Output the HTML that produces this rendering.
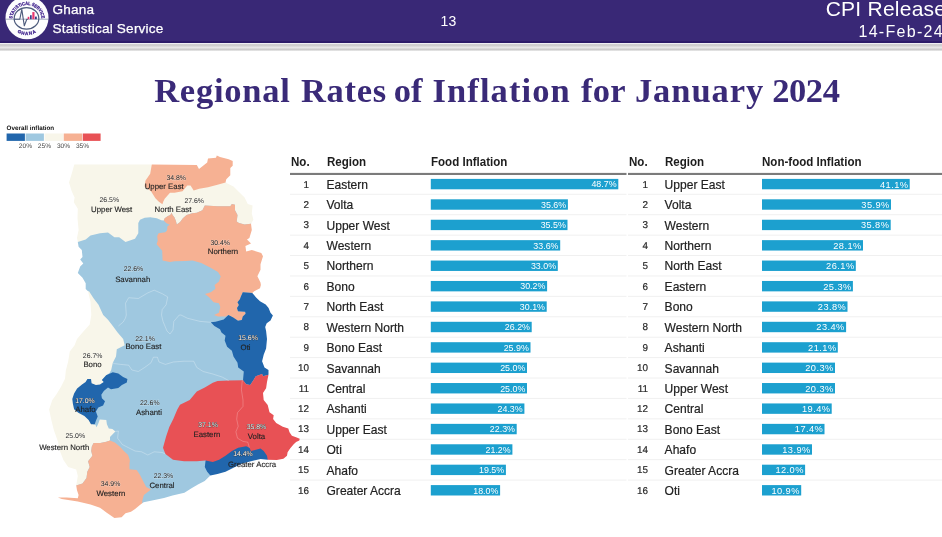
<!DOCTYPE html>
<html lang="en">
<head>
<meta charset="utf-8">
<title>Regional Rates of Inflation for January 2024</title>
<style>
html,body{margin:0;padding:0;}
body{width:942px;height:537px;overflow:hidden;background:#fff;position:relative;font-family:"Liberation Sans",sans-serif;}
.page{position:absolute;left:0;top:0;width:942px;height:537px;overflow:hidden;will-change:transform;}
.hdr{position:absolute;left:0;top:0;width:942px;height:42.7px;background:linear-gradient(#392876 0,#392876 40.6px,#2b1b68 41.6px,#2b1b68 100%);}
.strip{position:absolute;left:0;top:42.7px;width:942px;height:8.6px;background:linear-gradient(#f2f2f8 0,#eeeef2 8%,#c6c6c6 22%,#e6e6e6 56%,#c4c4c4 88%,#ffffff 100%);}
.org{position:absolute;left:52.5px;color:#fff;font-size:13.6px;line-height:18px;white-space:nowrap;letter-spacing:0.2px;-webkit-text-stroke:0.25px #fff;}
.pg{position:absolute;left:428.4px;width:40px;text-align:center;top:12.7px;color:#fff;font-size:14px;line-height:16px;}
.cpi{position:absolute;right:-4.3px;top:-3.2px;color:#fff;font-size:21px;line-height:24px;white-space:nowrap;letter-spacing:0.25px;}
.date{position:absolute;right:-2px;top:22.7px;color:#fff;font-size:16px;line-height:18px;white-space:nowrap;letter-spacing:1.3px;}
h1{position:absolute;left:0;top:69.7px;width:942px;height:40px;margin:0;font-family:"Liberation Serif",serif;font-weight:bold;font-size:34.5px;line-height:40px;color:#3a2a78;white-space:nowrap;}
h1 span{position:absolute;top:0;}
.th{position:absolute;top:154px;font-weight:bold;font-size:12.3px;line-height:16px;color:#1d1d1d;white-space:nowrap;transform:scaleX(0.94);transform-origin:0 0;}
.num{position:absolute;width:30px;text-align:right;font-size:9.9px;line-height:14px;color:#2a2a2a;-webkit-text-stroke:0.2px #2a2a2a;text-rendering:geometricPrecision;}
.reg{position:absolute;font-size:12.05px;line-height:16px;color:#222;white-space:nowrap;-webkit-text-stroke:0.2px #222;}
</style>
</head>
<body>
<div class="page">
<div class="hdr"></div>
<div class="strip"></div>
<svg class="logo" width="56" height="43" viewBox="0 0 56 43" style="position:absolute;left:0;top:0">
<defs>
<path id="arcT" d="M 12.4 19.6 A 14.6 14.6 0 0 1 41.6 19.6"/>
<path id="arcB" d="M 9.6 17.5 A 17.4 17.6 0 0 0 44.4 17.5"/>
</defs>
<circle cx="27" cy="17.8" r="21.5" fill="#fdfdfe"/>
<line x1="5.6" y1="19.2" x2="48.4" y2="19.2" stroke="#7c86a0" stroke-width="0.7"/>
<ellipse cx="26.5" cy="18.4" rx="12.3" ry="10.8" fill="none" stroke="#4d5b7c" stroke-width="1.2"/>
<polyline points="13.8,19.2 19.8,19.2 21.8,9.4 24.3,25.8 26.8,19.3 28,19.3" fill="none" stroke="#4d5b7c" stroke-width="1.1" stroke-linejoin="round"/>
<rect x="27.7" y="16.8" width="1.6" height="2.4" fill="#e8356e"/>
<rect x="30" y="15.2" width="1.7" height="4" fill="#3a3f86"/>
<rect x="32.3" y="12.1" width="2.2" height="7.1" fill="#e8356e"/>
<rect x="35" y="16.6" width="1.8" height="2.6" fill="#3a3f86"/>
<text font-family="Liberation Sans, sans-serif" font-weight="bold" font-size="4.7" fill="#43268f" stroke="#43268f" stroke-width="0.28"><textPath href="#arcT" startOffset="50%" text-anchor="middle" textLength="43.5" lengthAdjust="spacingAndGlyphs">STATISTICAL SERVICE</textPath></text>
<text font-family="Liberation Sans, sans-serif" font-weight="bold" font-size="4.5" fill="#43268f" stroke="#43268f" stroke-width="0.3" letter-spacing="0.85"><textPath href="#arcB" startOffset="50%" text-anchor="middle">GHANA</textPath></text>
</svg>

<div class="org" style="top:1.0px">Ghana</div>
<div class="org" style="top:19.9px">Statistical Service</div>
<div class="pg">13</div>
<div class="cpi">CPI Release</div>
<div class="date">14-Feb-24</div>
<h1><span style="left:154.2px;letter-spacing:0.75px">Regional</span> <span style="left:300.9px;letter-spacing:0.7px">Rates</span> <span style="left:393.8px;letter-spacing:0.0px">of</span> <span style="left:432.5px;letter-spacing:1.1px">Inflation</span> <span style="left:581.1px;letter-spacing:0.2px">for</span> <span style="left:634.9px;letter-spacing:0.94px">January</span> <span style="left:772.2px;letter-spacing:-0.43px">2024</span></h1>
<div class="tbl">
<div class="th" style="left:291px">No.</div>
<div class="th" style="left:326.5px">Region</div>
<div class="th" style="left:430.8px">Food Inflation</div>
<div class="num" style="left:279.1px;top:178.50px">1</div>
<div class="reg" style="left:326.5px;top:176.80px">Eastern</div>
<div class="num" style="left:279.1px;top:198.91px">2</div>
<div class="reg" style="left:326.5px;top:197.21px">Volta</div>
<div class="num" style="left:279.1px;top:219.33px">3</div>
<div class="reg" style="left:326.5px;top:217.63px">Upper West</div>
<div class="num" style="left:279.1px;top:239.74px">4</div>
<div class="reg" style="left:326.5px;top:238.04px">Western</div>
<div class="num" style="left:279.1px;top:260.15px">5</div>
<div class="reg" style="left:326.5px;top:258.45px">Northern</div>
<div class="num" style="left:279.1px;top:280.56px">6</div>
<div class="reg" style="left:326.5px;top:278.86px">Bono</div>
<div class="num" style="left:279.1px;top:300.98px">7</div>
<div class="reg" style="left:326.5px;top:299.28px">North East</div>
<div class="num" style="left:279.1px;top:321.39px">8</div>
<div class="reg" style="left:326.5px;top:319.69px">Western North</div>
<div class="num" style="left:279.1px;top:341.80px">9</div>
<div class="reg" style="left:326.5px;top:340.10px">Bono East</div>
<div class="num" style="left:279.1px;top:362.22px">10</div>
<div class="reg" style="left:326.5px;top:360.52px">Savannah</div>
<div class="num" style="left:279.1px;top:382.63px">11</div>
<div class="reg" style="left:326.5px;top:380.93px">Central</div>
<div class="num" style="left:279.1px;top:403.04px">12</div>
<div class="reg" style="left:326.5px;top:401.34px">Ashanti</div>
<div class="num" style="left:279.1px;top:423.46px">13</div>
<div class="reg" style="left:326.5px;top:421.76px">Upper East</div>
<div class="num" style="left:279.1px;top:443.87px">14</div>
<div class="reg" style="left:326.5px;top:442.17px">Oti</div>
<div class="num" style="left:279.1px;top:464.28px">15</div>
<div class="reg" style="left:326.5px;top:462.58px">Ahafo</div>
<div class="num" style="left:279.1px;top:484.69px">16</div>
<div class="reg" style="left:326.5px;top:482.99px">Greater Accra</div>
<svg width="942" height="537" viewBox="0 0 942 537" style="position:absolute;left:0;top:0;pointer-events:none">
<rect x="290" y="172.9" width="336.5" height="2.1" fill="#7b7b7b"/>
<rect x="430.8" y="178.90" width="187.5" height="10.4" fill="#1ca0cf"/>
<text x="616.6" y="187.40" text-anchor="end" font-family="Liberation Sans, sans-serif" font-size="8.9" letter-spacing="0" fill="#fff">48.7%</text>
<rect x="290" y="193.80" width="336.5" height="1" fill="#f0f0f0"/>
<rect x="430.8" y="199.31" width="137.1" height="10.4" fill="#1ca0cf"/>
<text x="566.2" y="207.81" text-anchor="end" font-family="Liberation Sans, sans-serif" font-size="8.9" letter-spacing="0" fill="#fff">35.6%</text>
<rect x="290" y="214.21" width="336.5" height="1" fill="#f0f0f0"/>
<rect x="430.8" y="219.73" width="136.7" height="10.4" fill="#1ca0cf"/>
<text x="565.8" y="228.23" text-anchor="end" font-family="Liberation Sans, sans-serif" font-size="8.9" letter-spacing="0" fill="#fff">35.5%</text>
<rect x="290" y="234.63" width="336.5" height="1" fill="#f0f0f0"/>
<rect x="430.8" y="240.14" width="129.4" height="10.4" fill="#1ca0cf"/>
<text x="558.5" y="248.64" text-anchor="end" font-family="Liberation Sans, sans-serif" font-size="8.9" letter-spacing="0" fill="#fff">33.6%</text>
<rect x="290" y="255.04" width="336.5" height="1" fill="#f0f0f0"/>
<rect x="430.8" y="260.55" width="127.0" height="10.4" fill="#1ca0cf"/>
<text x="556.1" y="269.05" text-anchor="end" font-family="Liberation Sans, sans-serif" font-size="8.9" letter-spacing="0" fill="#fff">33.0%</text>
<rect x="290" y="275.45" width="336.5" height="1" fill="#f0f0f0"/>
<rect x="430.8" y="280.96" width="116.3" height="10.4" fill="#1ca0cf"/>
<text x="545.4" y="289.46" text-anchor="end" font-family="Liberation Sans, sans-serif" font-size="8.9" letter-spacing="0" fill="#fff">30.2%</text>
<rect x="290" y="295.86" width="336.5" height="1" fill="#f0f0f0"/>
<rect x="430.8" y="301.38" width="115.9" height="10.4" fill="#1ca0cf"/>
<text x="545.0" y="309.88" text-anchor="end" font-family="Liberation Sans, sans-serif" font-size="8.9" letter-spacing="0" fill="#fff">30.1%</text>
<rect x="290" y="316.28" width="336.5" height="1" fill="#f0f0f0"/>
<rect x="430.8" y="321.79" width="100.9" height="10.4" fill="#1ca0cf"/>
<text x="530.0" y="330.29" text-anchor="end" font-family="Liberation Sans, sans-serif" font-size="8.9" letter-spacing="0" fill="#fff">26.2%</text>
<rect x="290" y="336.69" width="336.5" height="1" fill="#f0f0f0"/>
<rect x="430.8" y="342.20" width="99.7" height="10.4" fill="#1ca0cf"/>
<text x="528.8" y="350.70" text-anchor="end" font-family="Liberation Sans, sans-serif" font-size="8.9" letter-spacing="0" fill="#fff">25.9%</text>
<rect x="290" y="357.10" width="336.5" height="1" fill="#f0f0f0"/>
<rect x="430.8" y="362.62" width="96.2" height="10.4" fill="#1ca0cf"/>
<text x="525.3" y="371.12" text-anchor="end" font-family="Liberation Sans, sans-serif" font-size="8.9" letter-spacing="0" fill="#fff">25.0%</text>
<rect x="290" y="377.52" width="336.5" height="1" fill="#f0f0f0"/>
<rect x="430.8" y="383.03" width="96.2" height="10.4" fill="#1ca0cf"/>
<text x="525.3" y="391.53" text-anchor="end" font-family="Liberation Sans, sans-serif" font-size="8.9" letter-spacing="0" fill="#fff">25.0%</text>
<rect x="290" y="397.93" width="336.5" height="1" fill="#f0f0f0"/>
<rect x="430.8" y="403.44" width="93.6" height="10.4" fill="#1ca0cf"/>
<text x="522.7" y="411.94" text-anchor="end" font-family="Liberation Sans, sans-serif" font-size="8.9" letter-spacing="0" fill="#fff">24.3%</text>
<rect x="290" y="418.34" width="336.5" height="1" fill="#f0f0f0"/>
<rect x="430.8" y="423.86" width="85.9" height="10.4" fill="#1ca0cf"/>
<text x="515.0" y="432.36" text-anchor="end" font-family="Liberation Sans, sans-serif" font-size="8.9" letter-spacing="0" fill="#fff">22.3%</text>
<rect x="290" y="438.76" width="336.5" height="1" fill="#f0f0f0"/>
<rect x="430.8" y="444.27" width="81.6" height="10.4" fill="#1ca0cf"/>
<text x="510.7" y="452.77" text-anchor="end" font-family="Liberation Sans, sans-serif" font-size="8.9" letter-spacing="0" fill="#fff">21.2%</text>
<rect x="290" y="459.17" width="336.5" height="1" fill="#f0f0f0"/>
<rect x="430.8" y="464.68" width="75.1" height="10.4" fill="#1ca0cf"/>
<text x="504.2" y="473.18" text-anchor="end" font-family="Liberation Sans, sans-serif" font-size="8.9" letter-spacing="0" fill="#fff">19.5%</text>
<rect x="290" y="479.58" width="336.5" height="1" fill="#f0f0f0"/>
<rect x="430.8" y="485.09" width="69.3" height="10.4" fill="#1ca0cf"/>
<text x="498.4" y="493.59" text-anchor="end" font-family="Liberation Sans, sans-serif" font-size="8.9" letter-spacing="0" fill="#fff">18.0%</text>
</svg>
</div>
<div class="tbl">
<div class="th" style="left:629px">No.</div>
<div class="th" style="left:664.6px">Region</div>
<div class="th" style="left:762px">Non-food Inflation</div>
<div class="num" style="left:618.1px;top:178.50px">1</div>
<div class="reg" style="left:664.6px;top:176.80px">Upper East</div>
<div class="num" style="left:618.1px;top:198.91px">2</div>
<div class="reg" style="left:664.6px;top:197.21px">Volta</div>
<div class="num" style="left:618.1px;top:219.33px">3</div>
<div class="reg" style="left:664.6px;top:217.63px">Western</div>
<div class="num" style="left:618.1px;top:239.74px">4</div>
<div class="reg" style="left:664.6px;top:238.04px">Northern</div>
<div class="num" style="left:618.1px;top:260.15px">5</div>
<div class="reg" style="left:664.6px;top:258.45px">North East</div>
<div class="num" style="left:618.1px;top:280.56px">6</div>
<div class="reg" style="left:664.6px;top:278.86px">Eastern</div>
<div class="num" style="left:618.1px;top:300.98px">7</div>
<div class="reg" style="left:664.6px;top:299.28px">Bono</div>
<div class="num" style="left:618.1px;top:321.39px">8</div>
<div class="reg" style="left:664.6px;top:319.69px">Western North</div>
<div class="num" style="left:618.1px;top:341.80px">9</div>
<div class="reg" style="left:664.6px;top:340.10px">Ashanti</div>
<div class="num" style="left:618.1px;top:362.22px">10</div>
<div class="reg" style="left:664.6px;top:360.52px">Savannah</div>
<div class="num" style="left:618.1px;top:382.63px">11</div>
<div class="reg" style="left:664.6px;top:380.93px">Upper West</div>
<div class="num" style="left:618.1px;top:403.04px">12</div>
<div class="reg" style="left:664.6px;top:401.34px">Central</div>
<div class="num" style="left:618.1px;top:423.46px">13</div>
<div class="reg" style="left:664.6px;top:421.76px">Bono East</div>
<div class="num" style="left:618.1px;top:443.87px">14</div>
<div class="reg" style="left:664.6px;top:442.17px">Ahafo</div>
<div class="num" style="left:618.1px;top:464.28px">15</div>
<div class="reg" style="left:664.6px;top:462.58px">Greater Accra</div>
<div class="num" style="left:618.1px;top:484.69px">16</div>
<div class="reg" style="left:664.6px;top:482.99px">Oti</div>
<svg width="942" height="537" viewBox="0 0 942 537" style="position:absolute;left:0;top:0;pointer-events:none">
<rect x="628" y="172.9" width="314" height="2.1" fill="#7b7b7b"/>
<rect x="762" y="178.90" width="147.7" height="10.4" fill="#1ca0cf"/>
<text x="908.5" y="187.50" text-anchor="end" font-family="Liberation Sans, sans-serif" font-size="9.25" letter-spacing="0.45" fill="#fff">41.1%</text>
<rect x="628" y="193.80" width="314" height="1" fill="#f0f0f0"/>
<rect x="762" y="199.31" width="129.0" height="10.4" fill="#1ca0cf"/>
<text x="889.8" y="207.91" text-anchor="end" font-family="Liberation Sans, sans-serif" font-size="9.25" letter-spacing="0.45" fill="#fff">35.9%</text>
<rect x="628" y="214.21" width="314" height="1" fill="#f0f0f0"/>
<rect x="762" y="219.73" width="128.7" height="10.4" fill="#1ca0cf"/>
<text x="889.4" y="228.33" text-anchor="end" font-family="Liberation Sans, sans-serif" font-size="9.25" letter-spacing="0.45" fill="#fff">35.8%</text>
<rect x="628" y="234.63" width="314" height="1" fill="#f0f0f0"/>
<rect x="762" y="240.14" width="101.0" height="10.4" fill="#1ca0cf"/>
<text x="861.7" y="248.74" text-anchor="end" font-family="Liberation Sans, sans-serif" font-size="9.25" letter-spacing="0.45" fill="#fff">28.1%</text>
<rect x="628" y="255.04" width="314" height="1" fill="#f0f0f0"/>
<rect x="762" y="260.55" width="93.8" height="10.4" fill="#1ca0cf"/>
<text x="854.6" y="269.15" text-anchor="end" font-family="Liberation Sans, sans-serif" font-size="9.25" letter-spacing="0.45" fill="#fff">26.1%</text>
<rect x="628" y="275.45" width="314" height="1" fill="#f0f0f0"/>
<rect x="762" y="280.96" width="90.9" height="10.4" fill="#1ca0cf"/>
<text x="851.7" y="289.56" text-anchor="end" font-family="Liberation Sans, sans-serif" font-size="9.25" letter-spacing="0.45" fill="#fff">25.3%</text>
<rect x="628" y="295.86" width="314" height="1" fill="#f0f0f0"/>
<rect x="762" y="301.38" width="85.5" height="10.4" fill="#1ca0cf"/>
<text x="846.3" y="309.98" text-anchor="end" font-family="Liberation Sans, sans-serif" font-size="9.25" letter-spacing="0.45" fill="#fff">23.8%</text>
<rect x="628" y="316.28" width="314" height="1" fill="#f0f0f0"/>
<rect x="762" y="321.79" width="84.1" height="10.4" fill="#1ca0cf"/>
<text x="844.8" y="330.39" text-anchor="end" font-family="Liberation Sans, sans-serif" font-size="9.25" letter-spacing="0.45" fill="#fff">23.4%</text>
<rect x="628" y="336.69" width="314" height="1" fill="#f0f0f0"/>
<rect x="762" y="342.20" width="75.8" height="10.4" fill="#1ca0cf"/>
<text x="836.6" y="350.80" text-anchor="end" font-family="Liberation Sans, sans-serif" font-size="9.25" letter-spacing="0.45" fill="#fff">21.1%</text>
<rect x="628" y="357.10" width="314" height="1" fill="#f0f0f0"/>
<rect x="762" y="362.62" width="73.0" height="10.4" fill="#1ca0cf"/>
<text x="833.7" y="371.22" text-anchor="end" font-family="Liberation Sans, sans-serif" font-size="9.25" letter-spacing="0.45" fill="#fff">20.3%</text>
<rect x="628" y="377.52" width="314" height="1" fill="#f0f0f0"/>
<rect x="762" y="383.03" width="73.0" height="10.4" fill="#1ca0cf"/>
<text x="833.7" y="391.63" text-anchor="end" font-family="Liberation Sans, sans-serif" font-size="9.25" letter-spacing="0.45" fill="#fff">20.3%</text>
<rect x="628" y="397.93" width="314" height="1" fill="#f0f0f0"/>
<rect x="762" y="403.44" width="69.7" height="10.4" fill="#1ca0cf"/>
<text x="830.5" y="412.04" text-anchor="end" font-family="Liberation Sans, sans-serif" font-size="9.25" letter-spacing="0.45" fill="#fff">19.4%</text>
<rect x="628" y="418.34" width="314" height="1" fill="#f0f0f0"/>
<rect x="762" y="423.86" width="62.5" height="10.4" fill="#1ca0cf"/>
<text x="823.3" y="432.46" text-anchor="end" font-family="Liberation Sans, sans-serif" font-size="9.25" letter-spacing="0.45" fill="#fff">17.4%</text>
<rect x="628" y="438.76" width="314" height="1" fill="#f0f0f0"/>
<rect x="762" y="444.27" width="50.0" height="10.4" fill="#1ca0cf"/>
<text x="810.7" y="452.87" text-anchor="end" font-family="Liberation Sans, sans-serif" font-size="9.25" letter-spacing="0.45" fill="#fff">13.9%</text>
<rect x="628" y="459.17" width="314" height="1" fill="#f0f0f0"/>
<rect x="762" y="464.68" width="43.1" height="10.4" fill="#1ca0cf"/>
<text x="803.9" y="473.28" text-anchor="end" font-family="Liberation Sans, sans-serif" font-size="9.25" letter-spacing="0.45" fill="#fff">12.0%</text>
<rect x="628" y="479.58" width="314" height="1" fill="#f0f0f0"/>
<rect x="762" y="485.09" width="39.2" height="10.4" fill="#1ca0cf"/>
<text x="799.9" y="493.69" text-anchor="end" font-family="Liberation Sans, sans-serif" font-size="9.25" letter-spacing="0.45" fill="#fff">10.9%</text>
</svg>
</div>
<svg class="map" width="320" height="537" viewBox="0 0 320 537" style="position:absolute;left:0;top:0">
<defs><clipPath id="gh"><polygon points="74.3,164.4 151.8,164.4 196.8,165.0 199.0,169.0 207.2,162.5 208.0,158.5 216.0,157.7 216.8,155.4 220.0,157.0 228.7,159.3 232.7,161.0 232.7,165.7 230.3,168.0 230.3,175.3 226.3,179.2 225.5,182.4 233.5,186.4 239.0,192.0 244.6,197.5 247.8,204.0 252.6,205.5 251.8,213.5 253.4,219.8 251.0,223.8 251.8,230.0 249.4,238.0 247.0,239.5 251.0,243.5 245.4,246.0 246.2,251.5 251.8,250.0 261.3,253.0 263.0,256.3 260.5,264.2 260.5,269.8 257.4,276.2 260.5,282.5 260.9,285.0 260.0,288.3 254.2,291.2 252.3,293.1 256.1,297.4 260.0,301.2 265.7,304.6 268.6,307.9 270.5,312.7 272.9,315.6 270.5,320.4 266.7,323.2 265.2,327.0 266.1,331.0 267.0,338.9 266.1,348.4 263.7,354.8 262.1,361.2 264.5,367.5 268.5,370.0 268.5,374.7 267.0,381.9 266.1,388.2 263.0,393.0 263.7,400.0 267.7,405.0 269.5,412.3 273.7,415.3 273.1,418.9 276.2,423.1 282.8,426.8 288.3,428.6 289.5,432.2 291.9,435.8 296.7,437.6 299.7,438.7 299.3,440.5 296.1,441.9 293.7,444.3 290.1,448.5 287.6,452.2 287.0,455.8 283.4,458.8 276.8,460.0 267.7,459.7 260.5,459.0 251.0,461.3 241.4,463.7 233.5,467.7 225.5,471.7 217.5,474.0 210.4,475.6 204.7,481.0 197.9,484.4 191.1,488.6 184.4,492.8 172.5,495.4 164.0,497.9 152.1,500.5 143.6,502.2 140.2,504.7 135.1,509.0 131.0,511.8 125.5,513.3 121.6,517.3 114.4,518.0 106.4,512.5 100.0,507.7 90.5,504.5 77.8,501.4 61.8,499.0 57.9,497.4 66.6,497.4 77.8,498.2 78.6,495.0 77.0,490.2 76.2,485.4 77.8,475.9 76.2,469.5 68.2,467.1 63.4,460.0 60.3,452.0 57.9,441.4 53.9,430.3 51.5,420.7 49.1,409.6 52.3,400.0 56.3,394.6 61.0,386.7 65.0,378.7 65.8,370.7 68.2,361.2 69.8,351.6 74.6,345.3 77.0,339.0 82.5,332.5 89.7,324.5 91.3,315.0 90.5,301.7 88.0,291.3 85.7,289.0 85.7,283.3 82.5,277.8 77.8,273.0 80.2,266.6 83.3,263.4 80.2,259.5 82.5,257.0 81.8,250.0 78.6,246.7 77.8,242.0 77.0,238.0 78.6,230.0 77.5,218.2 77.8,208.7 73.8,202.3 74.6,197.5 71.7,191.2 69.0,182.4 71.7,173.7"/></clipPath></defs>
<text x="6.6" y="129.8" font-family="Liberation Sans, sans-serif" font-size="6.3" font-weight="bold" fill="#111" text-rendering="geometricPrecision">Overall inflation</text>
<rect x="6.6" y="133.5" width="18.3" height="7.4" fill="#2166ac"/>
<rect x="25.6" y="133.5" width="18.3" height="7.4" fill="#9fc8e0"/>
<rect x="44.6" y="133.5" width="18.4" height="7.4" fill="#f8f6ea"/>
<rect x="63.7" y="133.5" width="18.3" height="7.4" fill="#f6b193"/>
<rect x="82.7" y="133.5" width="17.9" height="7.4" fill="#e85155"/>
<text x="25.4" y="148" text-anchor="middle" font-family="Liberation Sans, sans-serif" font-size="6.6" fill="#444" text-rendering="geometricPrecision">20%</text>
<text x="44.4" y="148" text-anchor="middle" font-family="Liberation Sans, sans-serif" font-size="6.6" fill="#444" text-rendering="geometricPrecision">25%</text>
<text x="63.5" y="148" text-anchor="middle" font-family="Liberation Sans, sans-serif" font-size="6.6" fill="#444" text-rendering="geometricPrecision">30%</text>
<text x="82.5" y="148" text-anchor="middle" font-family="Liberation Sans, sans-serif" font-size="6.6" fill="#444" text-rendering="geometricPrecision">35%</text>
<g clip-path="url(#gh)"><g opacity="0.999">
<rect x="30" y="140" width="290" height="390" fill="#9fc8e0"/>
<polygon points="40.0,140.0 320.0,140.0 320.0,223.8 251.0,223.8 244.6,224.6 239.0,223.0 236.7,221.4 237.5,215.0 235.0,210.3 235.0,204.7 231.9,204.0 230.3,206.3 217.5,206.3 204.8,205.5 202.4,210.3 196.8,212.7 192.2,213.2 186.6,215.0 182.9,218.3 180.1,222.0 176.8,224.4 175.9,221.1 174.5,217.4 172.6,215.0 171.5,212.7 170.3,215.0 168.0,216.0 164.7,218.3 163.8,220.6 163.8,220.6 161.4,220.2 156.8,218.3 150.3,217.2 144.7,217.8 140.0,219.7 138.3,223.0 138.3,233.2 135.0,238.8 125.5,242.0 119.2,237.2 114.4,237.2 108.0,232.4 100.0,233.2 90.5,235.6 85.7,239.6 77.8,242.0 40.0,242.0" fill="#f8f6ea"/>
<polygon points="151.8,140.0 250.0,140.0 250.0,182.4 225.5,182.4 217.5,184.8 208.0,187.2 199.2,188.8 193.7,190.4 190.5,185.6 187.3,185.6 182.5,191.2 174.5,192.8 170.0,192.8 168.0,195.0 164.7,198.7 163.3,201.5 162.4,204.3 158.6,201.5 155.4,198.3 151.0,191.2 144.6,186.4 145.4,180.8 150.2,173.7 151.8,164.4" fill="#f6b193"/>
<polygon points="163.8,220.6 164.7,218.3 168.0,216.0 170.3,215.0 171.5,212.7 172.6,215.0 174.5,217.4 175.9,221.1 176.8,224.4 180.1,222.0 182.9,218.3 186.6,215.0 192.2,213.2 196.8,212.7 202.4,210.3 204.8,205.5 217.5,206.3 230.3,206.3 231.9,204.0 235.0,204.7 235.0,210.3 237.5,215.0 236.7,221.4 239.0,223.0 244.6,224.6 251.0,223.8 320.0,223.8 320.0,293.1 252.3,293.1 242.8,292.2 240.9,296.5 239.9,299.3 237.5,302.2 238.9,305.1 237.0,307.9 238.0,311.3 245.2,311.8 245.6,313.7 242.8,316.5 241.8,319.9 238.0,320.8 233.2,317.5 228.4,315.1 225.6,316.5 217.9,316.5 214.1,315.1 218.9,312.7 220.3,307.0 218.9,303.2 213.6,302.2 209.3,297.4 205.0,294.1 210.8,292.2 215.5,288.8 214.6,285.0 219.0,281.6 220.7,276.3 218.0,271.9 210.1,267.4 201.3,263.0 192.5,260.5 185.7,261.0 174.5,261.3 170.0,262.0 162.6,260.5 162.2,250.7 156.6,244.3 157.7,240.7 157.2,236.0 158.6,233.2 165.2,232.3 167.0,230.4 167.5,226.2 169.8,224.8 166.1,223.0 163.8,220.6" fill="#f6b193"/>
<polygon points="210.8,322.3 215.5,321.8 223.7,319.4 228.4,315.1 233.2,317.5 238.0,320.8 241.8,319.9 242.8,316.5 245.6,313.7 245.2,311.8 238.0,311.3 237.0,307.9 238.9,305.1 237.5,302.2 239.9,299.3 240.9,296.5 242.8,292.2 252.3,293.1 320.0,293.1 320.0,374.7 268.5,374.7 263.0,376.3 262.1,374.0 255.8,376.3 253.4,380.3 250.2,385.0 246.2,384.3 243.0,380.3 243.8,371.5 238.2,367.5 237.5,362.8 233.5,356.4 231.9,350.8 227.1,346.8 224.7,340.5 225.5,335.7 221.5,332.5 220.0,329.3 214.4,326.0" fill="#2166ac"/>
<polygon points="40.0,291.3 88.0,291.3 89.0,291.3 93.7,298.5 98.5,304.8 103.2,315.0 108.0,319.8 112.8,326.0 117.6,332.5 123.2,339.0 124.7,345.3 116.8,349.2 116.0,356.4 112.8,362.8 111.2,370.0 109.6,373.0 106.2,375.3 101.9,380.1 103.8,382.0 100.1,384.4 92.0,400.0 93.0,424.3 95.4,424.8 96.6,427.2 98.5,423.0 99.7,419.4 106.3,420.0 106.9,424.2 108.8,428.5 112.4,429.1 115.4,431.5 112.4,434.5 110.0,436.9 110.0,440.6 106.3,441.8 100.3,443.0 93.6,443.0 91.8,446.6 91.2,450.9 92.4,455.7 88.1,461.3 89.7,466.9 87.3,471.7 86.5,478.0 82.5,483.6 76.2,485.4 40.0,485.4" fill="#f8f6ea"/>
<polygon points="101.9,380.1 106.2,375.3 112.8,372.3 118.3,373.5 123.1,377.1 127.4,378.9 126.8,382.6 121.9,385.0 118.3,388.0 111.0,389.2 108.0,387.4 103.8,391.0 101.3,394.7 101.9,398.3 105.0,401.3 103.1,405.6 98.3,407.4 95.9,411.6 97.7,416.5 95.9,420.7 94.7,424.3 91.0,424.3 88.6,420.1 84.4,415.9 78.3,412.8 74.1,409.2 72.9,403.8 72.3,398.9 74.1,393.5 77.1,388.6 82.0,384.4 85.6,382.0 87.4,378.9 91.0,378.9 91.6,383.2 95.9,385.0 100.1,384.4 103.8,382.0" fill="#2166ac"/>
<polygon points="91.8,446.6 93.6,443.0 100.3,443.0 106.3,441.8 110.0,440.6 114.8,442.4 119.7,446.6 123.9,450.9 128.1,455.1 129.9,460.6 129.5,463.7 129.5,469.3 136.7,470.0 139.9,474.8 142.3,479.6 146.2,487.0 151.0,489.4 143.9,495.0 142.3,500.6 142.3,530.0 40.0,530.0 40.0,485.4 76.2,485.4 82.5,483.6 86.5,478.0 87.3,471.7 89.7,466.9 88.1,461.3 92.4,455.7 91.2,450.9" fill="#f6b193"/>
<polygon points="189.7,400.0 196.8,391.4 204.8,387.5 212.8,382.7 217.5,381.0 228.7,380.6 243.0,380.3 246.2,384.3 250.2,385.0 253.4,380.3 255.8,376.3 262.1,374.0 263.0,376.3 268.5,374.7 320.0,374.7 320.0,462.0 267.7,462.0 215.0,466.0 205.6,460.5 196.8,461.3 184.1,461.3 173.0,459.7 165.4,454.0 163.0,447.8 166.1,436.6 169.3,427.0 173.3,419.1 177.3,409.6 180.0,404.8" fill="#e85155"/>
<polygon points="205.6,460.5 212.8,462.1 219.1,459.7 225.5,455.7 231.9,451.0 238.2,447.8 246.2,446.2 249.4,447.8 251.0,451.0 260.5,448.6 263.7,451.0 267.0,455.7 267.7,459.7 267.7,485.0 210.4,485.0 210.4,475.6 207.2,471.7 204.8,466.9" fill="#2166ac"/>
<polyline points="118.4,326.0 123.2,322.0 125.5,318.0 126.3,315.0 125.5,303.2 128.7,297.7 138.3,298.5 147.8,292.9 154.2,290.2 162.2,293.7 167.7,296.9 166.1,304.8 162.2,309.6 161.5,315.0 163.0,321.4 167.0,331.0 170.0,334.0 173.0,330.0 173.8,321.4 179.3,315.0 181.0,315.0 187.3,318.2 200.0,321.4 210.8,322.3" fill="none" stroke="#fff" stroke-opacity="0.55" stroke-width="0.5"/>
<polyline points="112.8,362.8 114.4,363.6 120.8,364.4 128.7,365.2 131.9,370.0 138.3,371.5 144.6,367.5 151.0,362.8 153.4,357.2 157.4,357.2 159.0,362.0 165.4,364.4 173.3,362.0 184.1,361.2 193.7,361.2 196.8,367.5 203.2,371.5 212.8,374.0 222.3,377.1 228.7,380.6" fill="none" stroke="#fff" stroke-opacity="0.55" stroke-width="0.5"/>
<polyline points="115.4,431.5 118.4,431.0 117.6,438.2 122.4,444.6 128.7,447.8 135.0,451.0 141.5,451.8 147.8,455.0 154.2,451.8 162.2,452.5 165.4,454.0" fill="none" stroke="#fff" stroke-opacity="0.55" stroke-width="0.5"/>
<polyline points="243.0,380.6 242.2,381.0 241.4,389.8 243.0,400.0 243.0,406.4 237.5,412.7 236.7,419.1 238.2,426.3 235.9,431.8 237.5,438.2 243.0,441.4 247.8,442.2 249.4,447.8" fill="none" stroke="#fff" stroke-opacity="0.45" stroke-width="0.5"/>
</g></g>
<g font-family="Liberation Sans, sans-serif" text-anchor="middle" text-rendering="geometricPrecision">
<text x="109.3" y="201.6" font-size="6.9" fill="#262626" stroke="#ffffff" stroke-opacity="0.35" stroke-width="0.8" paint-order="stroke">26.5%</text>
<text x="111.6" y="211.9" font-size="7.8" fill="#222" stroke="#222" stroke-width="0.12">Upper West</text>
<text x="176.2" y="180.3" font-size="6.9" fill="#262626" stroke="#ffffff" stroke-opacity="0.35" stroke-width="0.8" paint-order="stroke">34.8%</text>
<text x="164.2" y="189.3" font-size="7.8" fill="#222" stroke="#222" stroke-width="0.12">Upper East</text>
<text x="194.2" y="203.3" font-size="6.9" fill="#262626" stroke="#ffffff" stroke-opacity="0.35" stroke-width="0.8" paint-order="stroke">27.6%</text>
<text x="173.0" y="211.7" font-size="7.8" fill="#222" stroke="#222" stroke-width="0.12">North East</text>
<text x="220.2" y="244.7" font-size="6.9" fill="#262626" stroke="#ffffff" stroke-opacity="0.35" stroke-width="0.8" paint-order="stroke">30.4%</text>
<text x="223.0" y="253.9" font-size="7.8" fill="#222" stroke="#222" stroke-width="0.12">Northern</text>
<text x="133.4" y="270.8" font-size="6.9" fill="#262626" stroke="#ffffff" stroke-opacity="0.35" stroke-width="0.8" paint-order="stroke">22.6%</text>
<text x="132.7" y="281.6" font-size="7.8" fill="#222" stroke="#222" stroke-width="0.12">Savannah</text>
<text x="145.0" y="340.7" font-size="6.9" fill="#262626" stroke="#ffffff" stroke-opacity="0.35" stroke-width="0.8" paint-order="stroke">22.1%</text>
<text x="143.4" y="349.3" font-size="7.8" fill="#222" stroke="#222" stroke-width="0.12">Bono East</text>
<text x="248.0" y="339.7" font-size="6.9" fill="#f4f4f4" stroke="#333" stroke-width="0.55" paint-order="stroke">15.6%</text>
<text x="245.6" y="350.1" font-size="7.8" fill="#222" stroke="#222" stroke-width="0.12">Oti</text>
<text x="92.6" y="357.5" font-size="6.9" fill="#262626" stroke="#ffffff" stroke-opacity="0.35" stroke-width="0.8" paint-order="stroke">26.7%</text>
<text x="92.5" y="367.3" font-size="7.8" fill="#222" stroke="#222" stroke-width="0.12">Bono</text>
<text x="84.9" y="402.6" font-size="6.9" fill="#f4f4f4" stroke="#333" stroke-width="0.55" paint-order="stroke">17.0%</text>
<text x="85.5" y="412.4" font-size="7.8" fill="#222" stroke="#222" stroke-width="0.12">Ahafo</text>
<text x="149.8" y="404.8" font-size="6.9" fill="#262626" stroke="#ffffff" stroke-opacity="0.35" stroke-width="0.8" paint-order="stroke">22.6%</text>
<text x="149.0" y="414.9" font-size="7.8" fill="#222" stroke="#222" stroke-width="0.12">Ashanti</text>
<text x="208.0" y="427.4" font-size="6.9" fill="#f4f4f4" stroke="#333" stroke-width="0.55" paint-order="stroke">37.1%</text>
<text x="206.9" y="437.3" font-size="7.8" fill="#222" stroke="#222" stroke-width="0.12">Eastern</text>
<text x="256.4" y="428.5" font-size="6.9" fill="#f4f4f4" stroke="#333" stroke-width="0.55" paint-order="stroke">35.8%</text>
<text x="256.5" y="439.0" font-size="7.8" fill="#222" stroke="#222" stroke-width="0.12">Volta</text>
<text x="75.3" y="437.9" font-size="6.9" fill="#262626" stroke="#ffffff" stroke-opacity="0.35" stroke-width="0.8" paint-order="stroke">25.0%</text>
<text x="64.2" y="449.6" font-size="7.8" fill="#222" stroke="#222" stroke-width="0.12">Western North</text>
<text x="242.9" y="456.1" font-size="6.9" fill="#f4f4f4" stroke="#333" stroke-width="0.55" paint-order="stroke">14.4%</text>
<text x="252.1" y="467.1" font-size="7.8" fill="#222" stroke="#222" stroke-width="0.12">Greater Accra</text>
<text x="163.4" y="477.7" font-size="6.9" fill="#262626" stroke="#ffffff" stroke-opacity="0.35" stroke-width="0.8" paint-order="stroke">22.3%</text>
<text x="162.0" y="488.3" font-size="7.8" fill="#222" stroke="#222" stroke-width="0.12">Central</text>
<text x="110.5" y="486.0" font-size="6.9" fill="#262626" stroke="#ffffff" stroke-opacity="0.35" stroke-width="0.8" paint-order="stroke">34.9%</text>
<text x="111.0" y="496.2" font-size="7.8" fill="#222" stroke="#222" stroke-width="0.12">Western</text>
</g>
</svg>
</div>
</body>
</html>
